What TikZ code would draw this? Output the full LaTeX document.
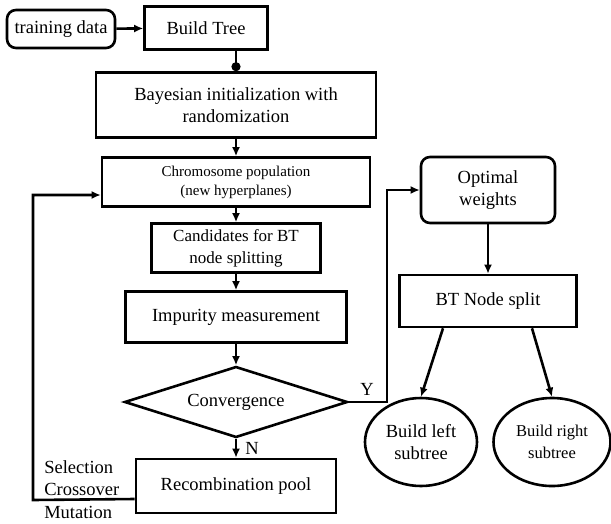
\documentclass[tikz,border=0pt]{standalone}
\usepackage{fontspec}
\setmainfont{Liberation Serif}
\usetikzlibrary{arrows.meta, positioning, shapes.geometric}

\begin{document}
\begin{tikzpicture}[x=1pt,y=-1pt,line width=2.6pt,>={Latex[length=9pt,width=8pt]}]
  \tikzstyle{every node}=[font=\fontsize{18.5}{22}\selectfont, align=center, inner sep=0pt]
  \tikzstyle{box}=[draw, rectangle]
  \tikzstyle{rbox}=[draw, rectangle, rounded corners=9pt]
  \useasboundingbox (0,0) rectangle (611,523);

  \node[rbox, minimum width=108pt, minimum height=38pt] (train) at (61,29) {training data};
  \node[box, minimum width=123pt, minimum height=43pt]  (build) at (206,28) {Build Tree};
  \node[box, minimum width=280pt, minimum height=65pt]  (bayes) at (236,105) {Bayesian initialization with\\randomization};
  \node[box, minimum width=268pt, minimum height=49pt, font=\fontsize{15}{19}\selectfont]
                                                        (chrom) [below of=bayes, node distance=77pt] {Chromosome population\\(new hyperplanes)};
  \node[box, minimum width=169pt, minimum height=49pt, font=\fontsize{17}{22}\selectfont]
                                                        (cand) [below of=chrom, node distance=66pt] {Candidates for BT\\node splitting};
  \node[box, minimum width=221pt, minimum height=51pt]  (imp) [below of=cand, node distance=69pt] {Impurity measurement};
  \node[draw, diamond, aspect=3.1, minimum width=223pt, minimum height=71pt]
                                                        (conv) [below of=imp, node distance=85pt] {Convergence};
  \node[box, minimum width=200pt, minimum height=54pt]  (rec) [below of=conv, node distance=84pt] {Recombination pool};

  \node[rbox, minimum width=134pt, minimum height=66pt] (opt) at (488,190) {Optimal\\weights};
  \node[box, minimum width=177pt, minimum height=52pt]  (split) [below of=opt, node distance=111pt] {BT Node split};
  \node[draw, ellipse, minimum width=112pt, minimum height=88pt] (left) at (421,442) {Build left\\subtree};
  \node[draw, ellipse, minimum width=117pt, minimum height=88pt, font=\fontsize{16.5}{22}\selectfont]
                                                        (right) at (552,442) {Build right\\subtree};

  \node (ylab) at (367,389) {Y};
  \node[anchor=south west, align=left] (ops) at (43,497) {Selection\\Crossover};
  \node[anchor=west] (mut) at (43,512) {Mutation};

  \coordinate (loopbl) at (33,500);
  \coordinate (yturn) at (387,402);

  \path[->]
  (train) edge                               (build)
  (bayes) edge                               (chrom)
  (chrom) edge                               (cand)
  (cand) edge                                (imp)
  (imp) edge                                 (conv)
  (conv) edge node[right, xshift=8pt] {N}    (rec)
  (opt) edge                                 (split)
  ([xshift=-45pt]split.south) edge           (left.north)
  ([xshift=44pt]split.south) edge            (right.north)
  ;
  \draw[-{Circle[length=9pt]}] (bayes.north |- build.south) -- (bayes.north);
  \draw[->] ([yshift=-13pt]rec.west) -- (loopbl) |- ([yshift=-13pt]chrom.west);
  \draw[->] (conv.east) -- (yturn) |- (opt.west);
\end{tikzpicture}
\end{document}
